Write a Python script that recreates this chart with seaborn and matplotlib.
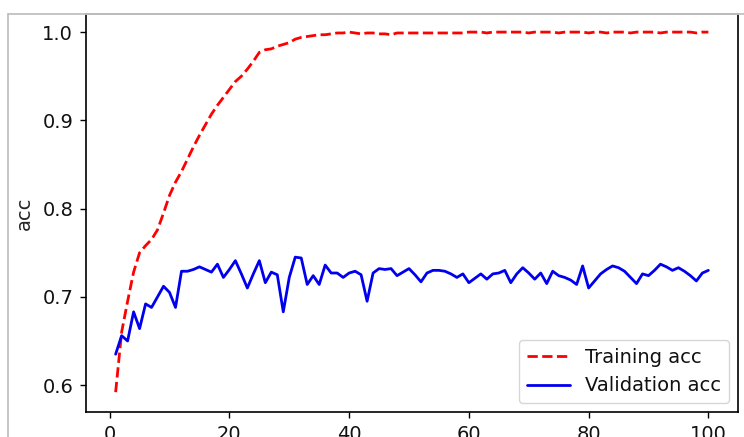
import numpy as np
import pandas as pd
import seaborn as sns
import matplotlib
matplotlib.use("Agg")
from matplotlib import pyplot as plt
from matplotlib.lines import Line2D

epochs = list(range(1, 101))

train_acc = [
    0.592, 0.660, 0.695, 0.728, 0.750, 0.758, 0.765, 0.776, 0.795, 0.815,
    0.830, 0.842, 0.856, 0.870, 0.883, 0.895, 0.907, 0.917, 0.926, 0.935,
    0.944, 0.950, 0.958, 0.967, 0.977, 0.980, 0.981, 0.984, 0.986, 0.988,
    0.992, 0.994, 0.995, 0.996, 0.997, 0.997, 0.998, 0.999, 0.999, 1.000,
    0.999, 0.998, 0.999, 0.999, 0.998, 0.998, 0.997, 0.999, 0.999, 0.999,
    0.999, 0.999, 0.999, 0.999, 0.999, 0.999, 0.999, 0.999, 0.999, 1.000,
    1.000, 1.000, 0.999, 1.000, 1.000, 1.000, 1.000, 1.000, 1.000, 0.999,
    1.000, 1.000, 1.000, 1.000, 0.999, 1.000, 1.000, 1.000, 1.000, 0.999,
    1.000, 1.000, 0.999, 1.000, 1.000, 1.000, 0.999, 1.000, 1.000, 1.000,
    1.000, 0.999, 1.000, 1.000, 1.000, 1.000, 1.000, 0.999, 1.000, 1.000,
]

val_acc = [
    0.635, 0.656, 0.650, 0.683, 0.664, 0.692, 0.688, 0.700, 0.712, 0.705,
    0.688, 0.729, 0.729, 0.731, 0.734, 0.731, 0.728, 0.737, 0.722, 0.731,
    0.741, 0.726, 0.710, 0.726, 0.741, 0.716, 0.728, 0.725, 0.683, 0.722,
    0.745, 0.744, 0.714, 0.724, 0.714, 0.736, 0.727, 0.727, 0.722, 0.727,
    0.729, 0.725, 0.695, 0.727, 0.732, 0.731, 0.732, 0.724, 0.728, 0.732,
    0.725, 0.717, 0.727, 0.730, 0.730, 0.729, 0.726, 0.722, 0.726, 0.716,
    0.721, 0.726, 0.720, 0.726, 0.727, 0.730, 0.716, 0.726, 0.733, 0.727,
    0.720, 0.727, 0.715, 0.729, 0.724, 0.722, 0.719, 0.714, 0.735, 0.710,
    0.718, 0.726, 0.731, 0.735, 0.733, 0.729, 0.722, 0.715, 0.726, 0.724,
    0.730, 0.737, 0.734, 0.730, 0.733, 0.729, 0.724, 0.718, 0.727, 0.730,
]

df = pd.DataFrame({"epoch": epochs, "train": train_acc, "val": val_acc})

sns.set_style("ticks")
plt.rcParams["font.family"] = ["DejaVu Sans"]
plt.rcParams["axes.edgecolor"] = "black"
plt.rcParams["text.color"] = "#111111"
plt.rcParams["xtick.color"] = "black"
plt.rcParams["ytick.color"] = "black"

fig = plt.figure(figsize=(7.44, 4.37), dpi=100)
ax = fig.add_axes([86 / 744, 25 / 437, 652 / 744, 398 / 437])

sns.lineplot(data=df, x="epoch", y="train", ax=ax, color="r",
             linestyle="--", linewidth=2.0, label="Training acc")
sns.lineplot(data=df, x="epoch", y="val", ax=ax, color="#0000ee",
             linewidth=2.0, label="Validation acc")

ax.set_xlim(-3.95, 104.95)
ax.set_ylim(0.5695, 1.0205)
ax.set_xticks([0, 20, 40, 60, 80, 100])
ax.set_yticks([0.6, 0.7, 0.8, 0.9, 1.0])
ax.tick_params(labelsize=14, length=4.6, width=1.0, pad=4.6,
               labelcolor="#111111")
ax.set_xlabel("")
ax.set_ylabel("acc", fontsize=14, labelpad=6)

for s in ax.spines.values():
    s.set_linewidth(1.2)
ax.spines["top"].set_color("#bbbbbb")

# screenshot frame on the left edge
fig.add_artist(Line2D([8 / 744, 8 / 744], [0, 1 - 14 / 437],
                      transform=fig.transFigure, color="#bbbbbb", lw=1.2))
fig.add_artist(Line2D([8 / 744, 1], [1 - 14 / 437, 1 - 14 / 437],
                      transform=fig.transFigure, color="#bbbbbb", lw=1.2))

leg = ax.legend(loc="lower right", fontsize=14, frameon=True,
                handlelength=2.2, borderaxespad=0.45)
leg.get_frame().set_edgecolor("#cccccc")

fig.savefig("out.png", dpi=100)
